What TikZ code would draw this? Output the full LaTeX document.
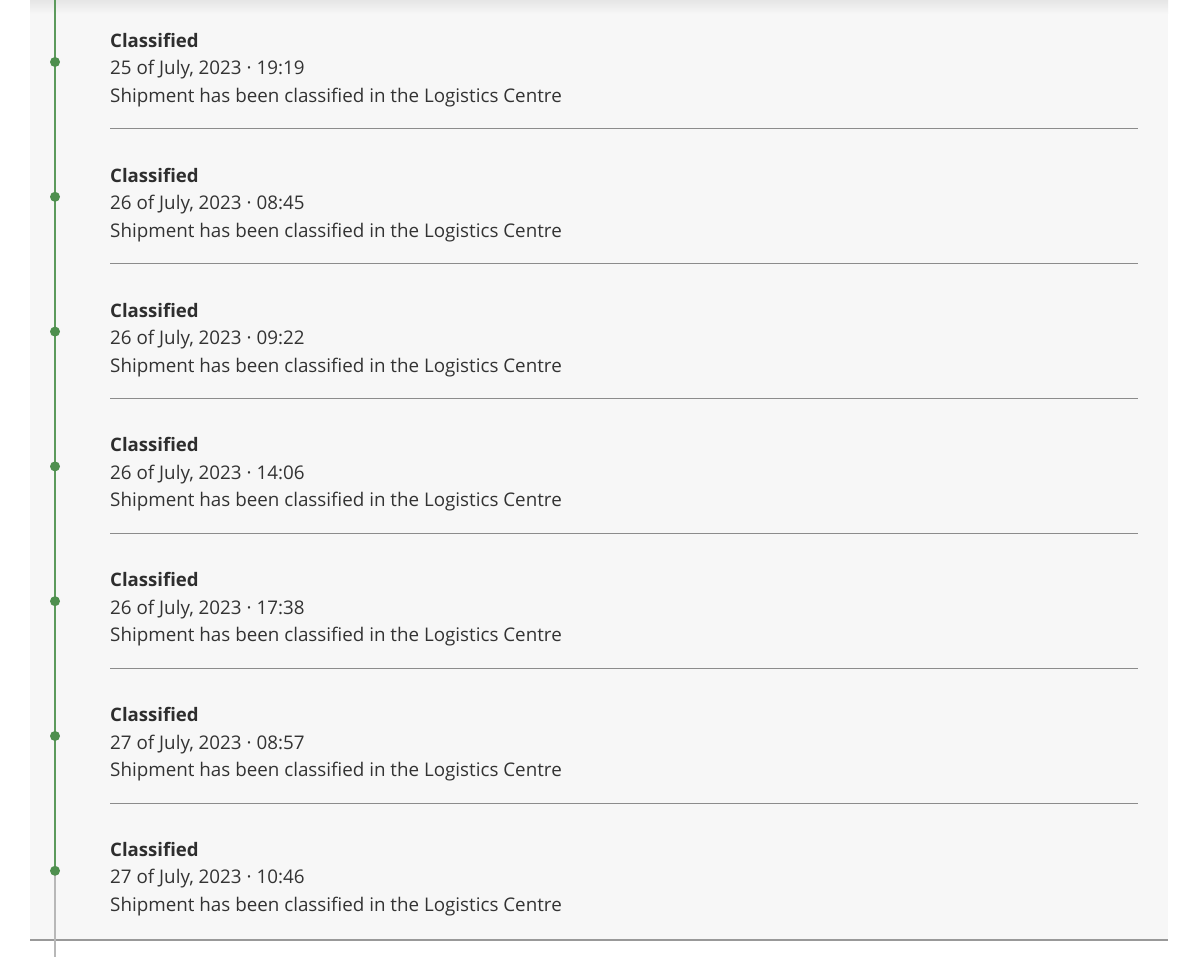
\documentclass[tikz,border=0pt]{standalone}
\usepackage{fontspec}
\setmainfont{Open Sans}
\definecolor{panel}{HTML}{F7F7F7}
\definecolor{tgreen}{HTML}{5C9A5C}
\definecolor{dotg}{HTML}{4E8F4E}
\definecolor{sep}{HTML}{8C8C8C}
\definecolor{txt}{HTML}{333333}
\definecolor{ttl}{HTML}{2E2E2E}
\tikzset{
  title/.style={anchor=base west,font=\fontsize{18.6}{18.6}\selectfont\bfseries,text=ttl,inner sep=0},
  line/.style={anchor=base west,font=\fontsize{18.8}{18.8}\selectfont,text=txt,inner sep=0},
  sepline/.style={draw=sep,line width=1pt},
  dotn/.style={circle,fill=dotg,minimum size=10pt,inner sep=0},
}
\begin{document}
\begin{tikzpicture}[x=1pt,y=-1pt]
\useasboundingbox (0,0) rectangle (1200,957);
\fill[white] (0,0) rectangle (1200,957);
\fill[panel] (30,0) rectangle (1168,940);
\shade[top color=black!10,bottom color=panel] (30,0) rectangle (1168,14);
\coordinate (top) at (55,0);
\coordinate (bot) at (55,957);
\foreach \i/\d in {1/{25 of July, 2023 · 19:19},2/{26 of July, 2023 · 08:45},3/{26 of July, 2023 · 09:22},4/{26 of July, 2023 · 14:06},5/{26 of July, 2023 · 17:38},6/{27 of July, 2023 · 08:57},7/{27 of July, 2023 · 10:46}}{
  \pgfmathsetmacro{\yy}{(\i-1)*134.8}
  \node[title] (t\i) at (110,\yy+47.5) {Classified};
  \node[line] (d\i) at (110,\yy+75) {\d};
  \node[line] (s\i) at (110,\yy+102.5) {Shipment has been classified in the Logistics Centre};
  \coordinate (dot\i) at (55,\yy+62);
}
\foreach \i in {1,...,6}{
  \pgfmathsetmacro{\yy}{(\i-1)*134.8+129}
  \coordinate (la\i) at (110,\yy);
  \coordinate (lb\i) at (1138,\yy);
  \draw[sepline] (la\i) -- (lb\i);
}
\coordinate (ba) at (30,940);
\coordinate (bb) at (1168,940);
\draw[sepline,draw=black!40,line width=1.3pt] (ba) -- (bb);
\draw[tgreen,line width=2pt] (top) -- (dot7);
\draw[black!28,line width=2pt] (dot7) -- (bot);
\foreach \i in {1,...,7}{ \node[dotn] at (dot\i) {}; }
\end{tikzpicture}
\end{document}
